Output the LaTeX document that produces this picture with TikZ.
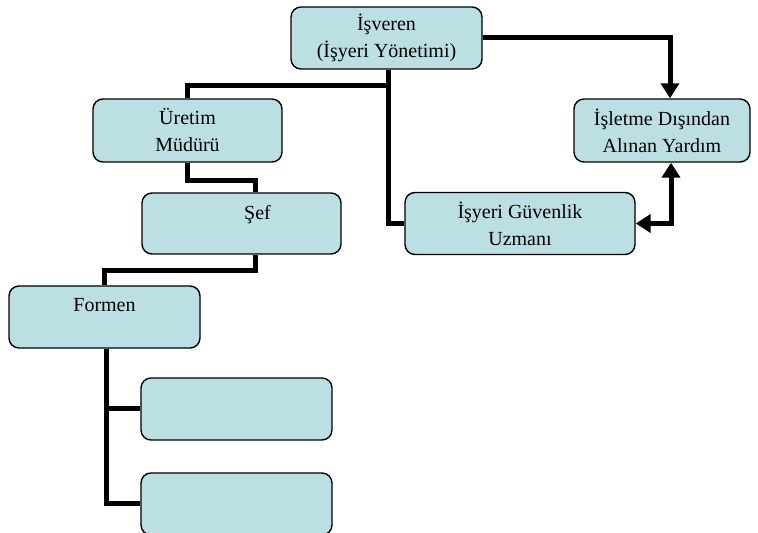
\documentclass[tikz,border=0pt]{standalone}
\usepackage{fontspec}
\setmainfont{Liberation Serif}
\usetikzlibrary{arrows.meta}
\definecolor{boxfill}{HTML}{BBDFE2}
\tikzset{
  box/.style={draw=black, line width=1.4pt, rounded corners=10pt, fill=boxfill,
    inner sep=0pt, align=center, font=\fontsize{20}{27}\selectfont},
  conn/.style={line width=5pt, draw=black},
  harrow/.style={-{Triangle[width=18pt,length=15pt]}},
  lbl/.style={font=\fontsize{20}{27}\selectfont, inner sep=0pt, anchor=north}
}
\begin{document}
\begin{tikzpicture}[x=1pt,y=1pt]
\useasboundingbox (0,0) rectangle (758,533);
% nodes
\node[box, minimum width=191pt, minimum height=62pt] (top) at (386.5,495) {İşveren\\(İşyeri Yönetimi)};
\node[box, minimum width=189pt, minimum height=63pt] (ure) at (187.5,402.5) {Üretim\\Müdürü};
\node[box, minimum width=199pt, minimum height=61pt] (sef) at (241.5,309.5) {};
\node[lbl] (seft) at ([xshift=16pt,yshift=-13pt]sef.north) {Şef};
\node[box, minimum width=191pt, minimum height=62pt] (form) at (104.5,216) {};
\node[lbl] (formt) at ([yshift=-13pt]form.north) {Formen};
\node[box, minimum width=191pt, minimum height=62pt] (b1) at (236.5,124) {};
\node[box, minimum width=191pt, minimum height=62pt] (b2) at (236.5,29) {};
\node[box, minimum width=230pt, minimum height=62pt] (guv) at (520,309.5) {İşyeri Güvenlik\\Uzmanı};
\node[box, minimum width=176pt, minimum height=63pt] (ise) at (662,402.5) {İşletme Dışından\\Alınan Yardım};
% connectors
\draw[conn] ([xshift=1.5pt]top.south) |- (guv.west);
\draw[conn] ([xshift=1.5pt]top.south) -- ++(0,-16) -| (ure.north);
\draw[conn] (ure.south) -- ++(0,-18) -| ([xshift=14pt]sef.north);
\draw[conn] ([xshift=14pt]sef.south) -- ++(0,-16) -| (form.north);
\draw[conn] ([xshift=2pt]form.south) |- (b1.west);
\draw[conn] ([xshift=2pt]form.south) |- (b2.west);
\draw[conn, harrow] (top.east) -| ([xshift=8pt]ise.north);
\draw[conn, {Triangle[width=18pt,length=15pt]}-{Triangle[width=18pt,length=15pt]}] (guv.east) -| ([xshift=9pt]ise.south);
\end{tikzpicture}
\end{document}
